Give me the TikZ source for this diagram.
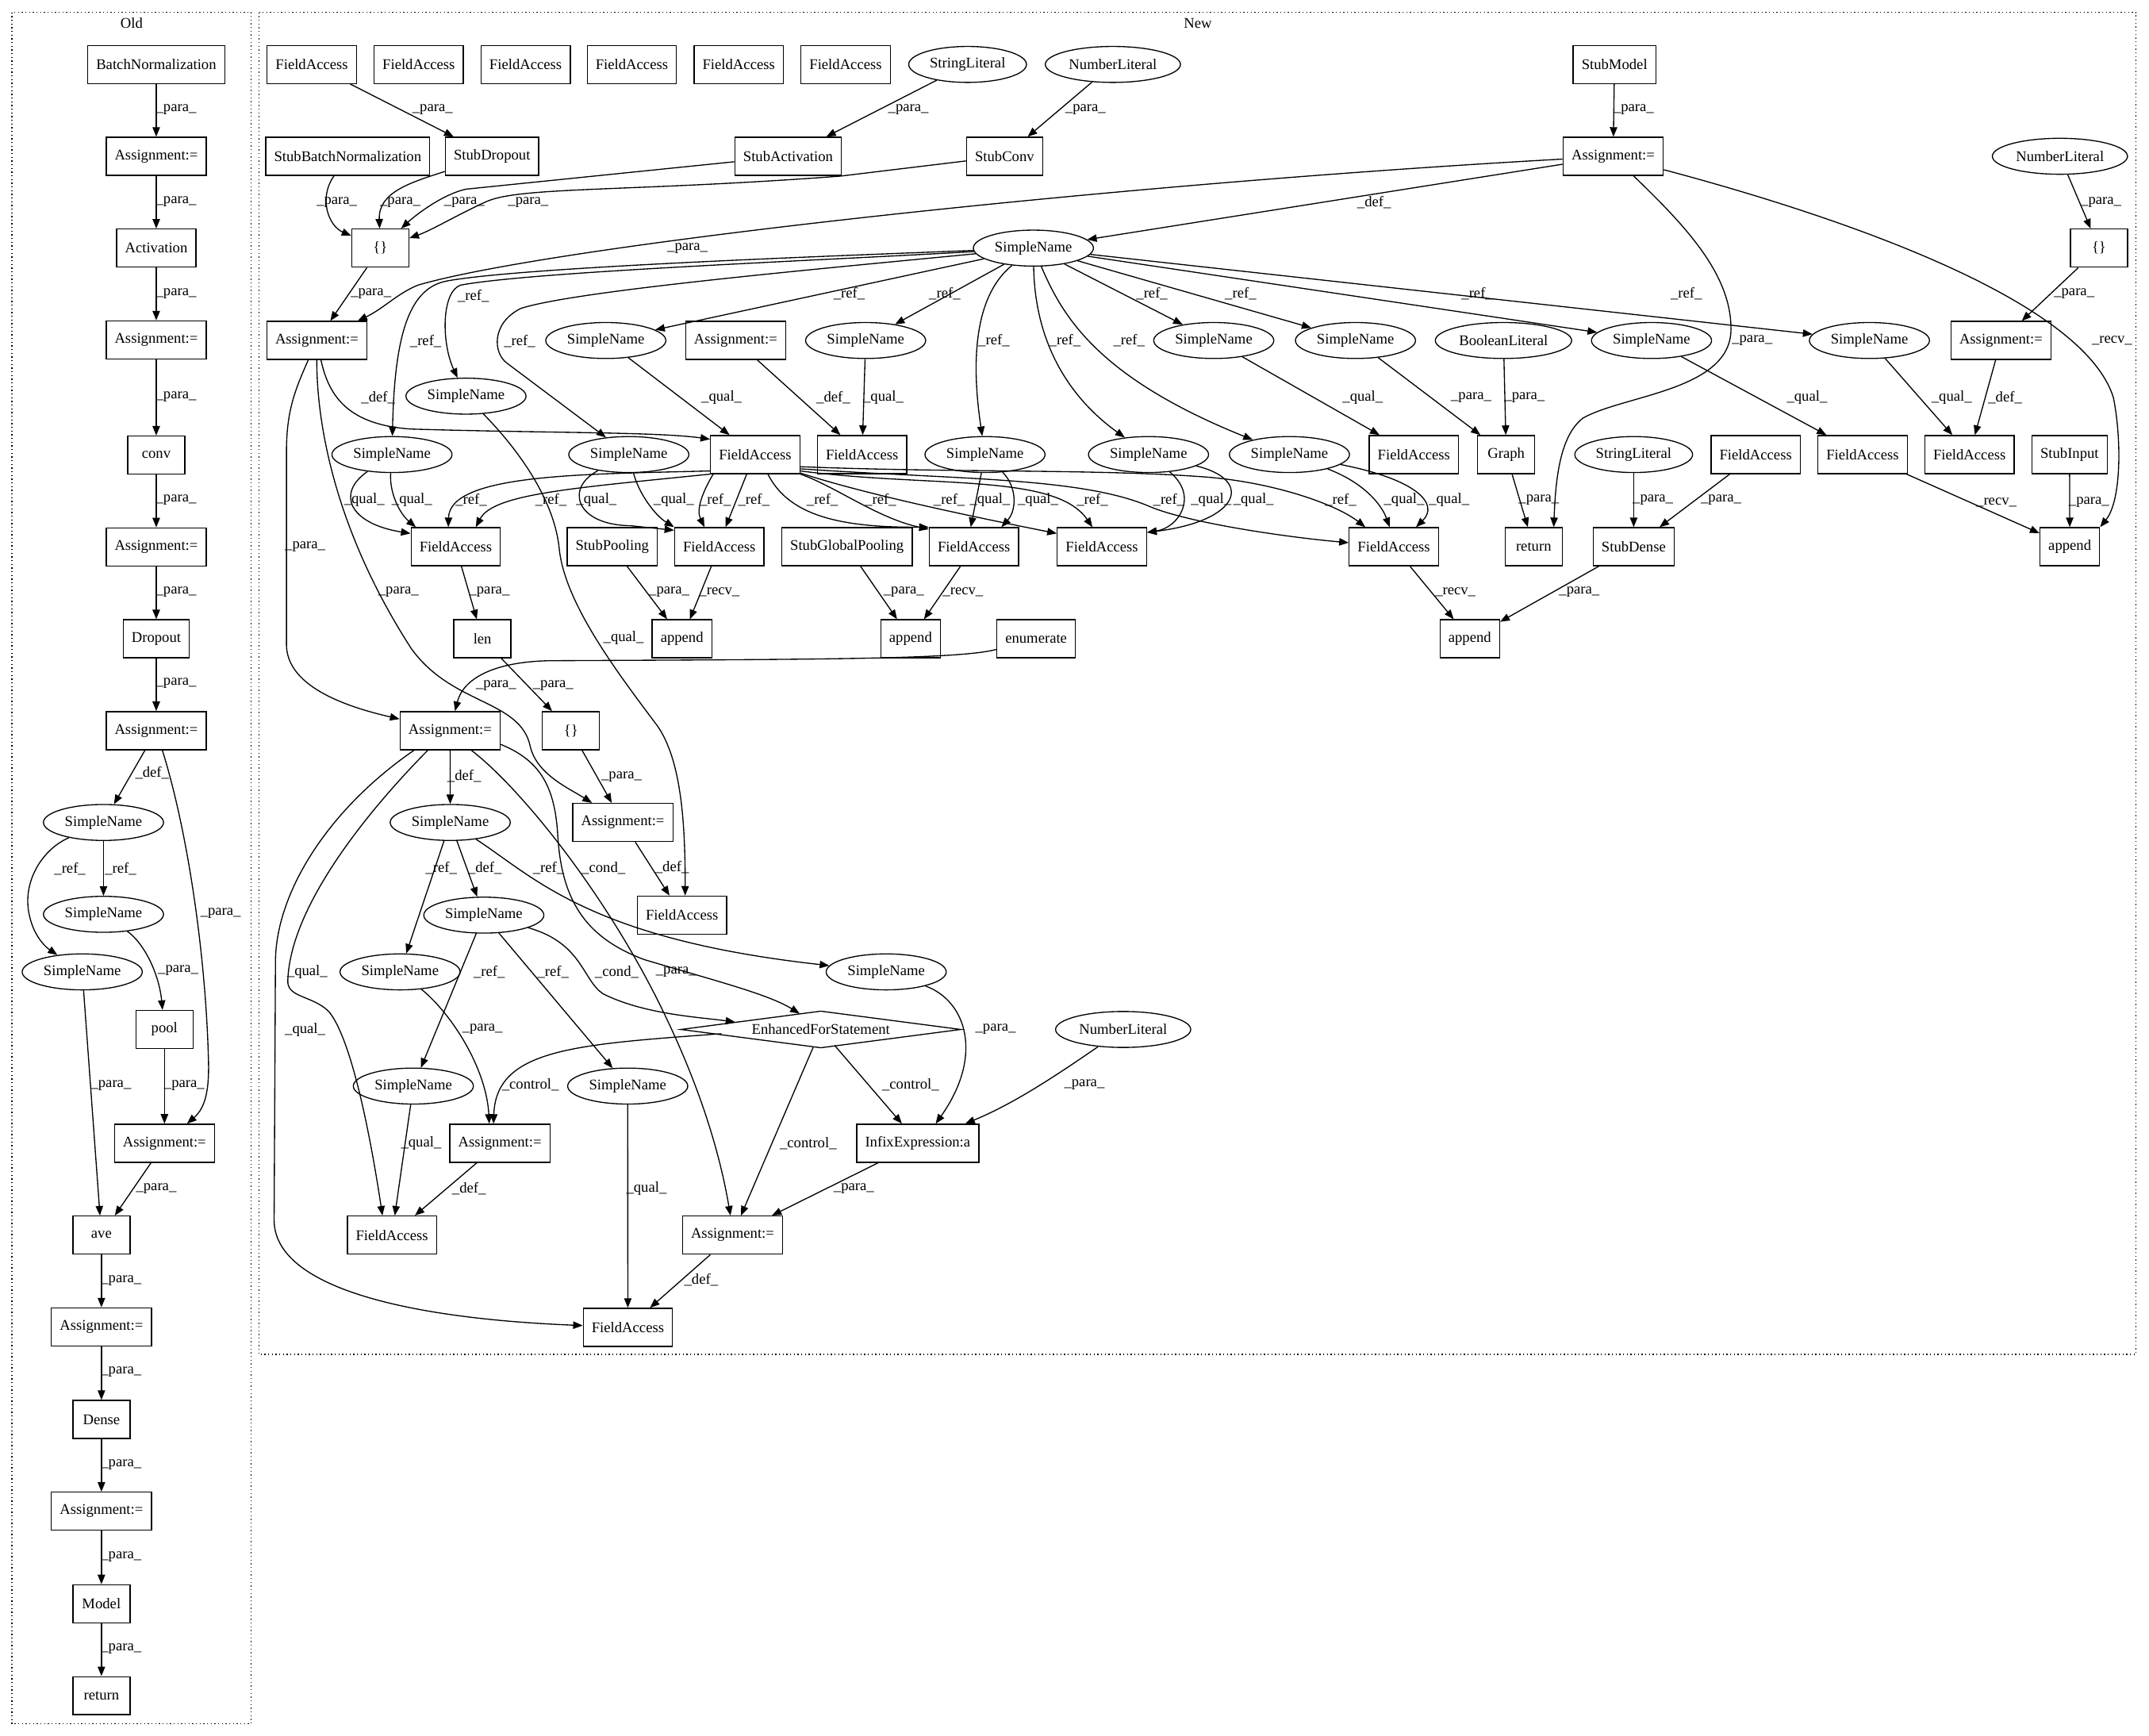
\documentclass[tikz,border=0pt]{standalone}
\usepackage{fontspec}
\setmainfont{Liberation Serif}
\usetikzlibrary{arrows.meta,shapes.geometric}
\tikzset{
 bx/.style={draw, rectangle, minimum height=36pt, minimum width=54pt, inner xsep=8pt, inner ysep=0pt, line width=1pt},
 elp/.style={draw, ellipse, minimum height=34pt, inner xsep=3.6pt, inner ysep=0pt, line width=1pt},
 dmd/.style={draw, diamond, aspect=7, minimum width=265pt, minimum height=35pt, inner sep=0pt, line width=1pt},
 edg/.style={draw, line width=1pt, -{Triangle[length=9pt,width=7pt]}},
 lbl/.style={inner sep=0pt},
 clu/.style={draw, line width=1pt, dash pattern=on 1pt off 2.5pt},
}
\begin{document}
\begin{tikzpicture}[x=1.296pt,y=-1.296pt,font=\fontsize{14}{16.8}\selectfont]
\useasboundingbox (0,0) rectangle (1568,1266);
% clusters
\draw[clu] (8.7,9) rectangle (183.3,1257.5);
\node[lbl] (oldlab) at (96,17) {Old};
\draw[clu] (189,9) rectangle (1558.5,988);
\node[lbl] (newlab) at (874,17) {New};

% ---------------- Old nodes
\node[bx] (obn) at (114,47) {BatchNormalization};
\node[bx] (oa1) at (114,114) {Assignment:=};
\node[bx] (oact) at (114,181) {Activation};
\node[bx] (oa2) at (114,248) {Assignment:=};
\node[bx] (oconv) at (114,332) {conv};
\node[bx] (oa3) at (114,399) {Assignment:=};
\node[bx] (odrop) at (114,466) {Dropout};
\node[bx] (oa4) at (114,533) {Assignment:=};
\node[elp] (os1) at (75.5,600) {SimpleName};
\node[elp] (os2) at (75.5,667) {SimpleName};
\node[elp] (os3) at (60,709) {SimpleName};
\node[bx] (opool) at (120,751) {pool};
\node[bx] (oa5) at (120,834) {Assignment:=};
\node[bx] (oave) at (74,901) {ave};
\node[bx] (oa6) at (74,968) {Assignment:=};
\node[bx] (odense) at (74,1035.5) {Dense};
\node[bx] (oa7) at (74,1102.5) {Assignment:=};
\node[bx] (omodel) at (74,1170) {Model};
\node[bx] (oret) at (74,1237) {return};

% ---------------- Old edges
\draw[edg] (obn) -- (oa1) node[lbl] at (128.5,80) {\_para\_};
\draw[edg] (oa1) -- (oact) node[lbl] at (128.5,147) {\_para\_};
\draw[edg] (oact) -- (oa2) node[lbl] at (128.5,214.4) {\_para\_};
\draw[edg] (oa2) -- (oconv) node[lbl] at (128.5,289.5) {\_para\_};
\draw[edg] (oconv) -- (oa3) node[lbl] at (128.5,364.6) {\_para\_};
\draw[edg] (oa3) -- (odrop) node[lbl] at (128.5,432) {\_para\_};
\draw[edg] (odrop) -- (oa4) node[lbl] at (128.5,498.6) {\_para\_};
\draw[edg] (oa4) -- (os1) node[lbl] at (111,564) {\_def\_};
\draw[edg] (oa4) .. controls (138,610) and (150,700) .. (152,770) .. controls (153,795) and (150,808) .. (oa5) node[lbl] at (161,666) {\_para\_};
\draw[edg] (os1) -- (os2) node[lbl] at (88,634) {\_ref\_};
\draw[edg] (os1) .. controls (30,620) and (15,645) .. (22,670) .. controls (25,682) and (32,690) .. (os3) node[lbl] at (51,634) {\_ref\_};
\draw[edg] (os2) .. controls (105,688) and (116,710) .. (opool) node[lbl] at (130,708) {\_para\_};
\draw[edg] (os3) -- (oave) node[lbl] at (81,792) {\_para\_};
\draw[edg] (opool) -- (oa5) node[lbl] at (134.5,792) {\_para\_};
\draw[edg] (oa5) -- (oave) node[lbl] at (114,867) {\_para\_};
\draw[edg] (oave) -- (oa6) node[lbl] at (88.4,934) {\_para\_};
\draw[edg] (oa6) -- (odense) node[lbl] at (88.4,1001) {\_para\_};
\draw[edg] (odense) -- (oa7) node[lbl] at (88.4,1068.6) {\_para\_};
\draw[edg] (oa7) -- (omodel) node[lbl] at (88.4,1135.7) {\_para\_};
\draw[edg] (omodel) -- (oret) node[lbl] at (88.4,1202.8) {\_para\_};

% ---------------- New nodes
\node[bx] (fa1) at (227.5,47) {FieldAccess};
\node[bx] (fa2) at (305.5,47) {FieldAccess};
\node[bx] (fa3) at (383.5,47) {FieldAccess};
\node[bx] (fa4) at (461,47) {FieldAccess};
\node[bx] (fa5) at (539,47) {FieldAccess};
\node[bx] (fa6) at (617,47) {FieldAccess};
\node[elp] (strl1) at (706,47) {StringLiteral};
\node[elp] (numl1) at (812,47) {NumberLiteral};
\node[bx] (stubmodel) at (1178,47) {StubModel};

\node[bx] (stubbn) at (253.7,114) {StubBatchNormalization};
\node[bx] (stubdrop) at (359,114) {StubDropout};
\node[bx] (stubact) at (575,114) {StubActivation};
\node[bx] (stubconv) at (733,114) {StubConv};
\node[bx] (nam) at (1177,114) {Assignment:=};
\node[elp] (numl2) at (1503,114) {NumberLiteral};

\node[bx] (br1) at (277.5,181) {\{\}};
\node[elp] (sn0) at (754,181) {SimpleName};
\node[bx] (br2) at (1531.5,181) {\{\}};

\node[bx] (na1) at (231.2,248.4) {Assignment:=};
\node[elp] (snA) at (442,248.4) {SimpleName};
\node[bx] (na2) at (536.8,248.4) {Assignment:=};
\node[elp] (snB) at (631.6,248.4) {SimpleName};
\node[elp] (snC) at (885.6,248.4) {SimpleName};
\node[elp] (snD) at (989,248.4) {SimpleName};
\node[elp] (booll) at (1097,248.4) {BooleanLiteral};
\node[elp] (snE) at (1205,248.4) {SimpleName};
\node[elp] (snF) at (1364,248.4) {SimpleName};
\node[bx] (na3) at (1460,248.4) {Assignment:=};

\node[elp] (snG) at (340,289) {SimpleName};

\node[elp] (snH) at (286,331.6) {SimpleName};
\node[elp] (snI) at (458.8,331.6) {SimpleName};
\node[bx] (fa0) at (551,331.6) {FieldAccess};
\node[bx] (faB) at (629,331.6) {FieldAccess};
\node[elp] (snJ) at (718.7,331.6) {SimpleName};
\node[elp] (snK) at (838,331.6) {SimpleName};
\node[elp] (snL) at (940.8,331.6) {SimpleName};
\node[bx] (faC) at (1031.6,331.6) {FieldAccess};
\node[bx] (graph) at (1099,331.6) {Graph};
\node[elp] (strl2) at (1192,331.6) {StringLiteral};
\node[bx] (faD) at (1281,331.6) {FieldAccess};
\node[bx] (faE) at (1359,331.6) {FieldAccess};
\node[bx] (faF) at (1437,331.6) {FieldAccess};
\node[bx] (stubinput) at (1510,331.6) {StubInput};

\node[bx] (faG) at (332.5,398.8) {FieldAccess};
\node[bx] (stubpool) at (446.7,398.8) {StubPooling};
\node[bx] (faH) at (524.8,398.8) {FieldAccess};
\node[bx] (stubgp) at (618,398.8) {StubGlobalPooling};
\node[bx] (faI) at (710.6,398.8) {FieldAccess};
\node[bx] (faJ) at (804,398.8) {FieldAccess};
\node[bx] (faK) at (1017,398.8) {FieldAccess};
\node[bx] (nret) at (1119,398.8) {return};
\node[bx] (stubdense) at (1192,398.8) {StubDense};
\node[bx] (ap4) at (1510.2,398.8) {append};

\node[bx] (len) at (352,466) {len};
\node[bx] (ap1) at (497.6,466) {append};
\node[bx] (ap2) at (664.4,466) {append};
\node[bx] (enum) at (756,466) {enumerate};
\node[bx] (ap3) at (1072.4,466) {append};

\node[bx] (na4) at (328.4,533) {Assignment:=};
\node[bx] (br3) at (416.6,533) {\{\}};
\node[elp] (sn1) at (328.5,600) {SimpleName};
\node[bx] (na5) at (454.4,600) {Assignment:=};
\node[elp] (sn2) at (353,667.6) {SimpleName};
\node[bx] (faL) at (497.6,667.6) {FieldAccess};
\node[elp] (sn3) at (291.9,709) {SimpleName};
\node[elp] (sn4) at (646.6,709) {SimpleName};
\node[dmd] (efs) at (598.9,751) {EnhancedForStatement};
\node[elp] (numl3) at (819.5,751) {NumberLiteral};
\node[elp] (sn5) at (301.6,792.3) {SimpleName};
\node[elp] (sn6) at (458,792.3) {SimpleName};
\node[bx] (na6) at (364.7,834) {Assignment:=};
\node[bx] (infix) at (669.6,834) {InfixExpression:a};
\node[bx] (faM) at (286,901) {FieldAccess};
\node[bx] (na7) at (534.5,901) {Assignment:=};
\node[bx] (faN) at (458.1,968.3) {FieldAccess};

% ---------------- New edges: top
\draw[edg] (fa1) -- (stubdrop) node[lbl] at (315.6,80) {\_para\_};
\draw[edg] (strl1) -- (stubact) node[lbl] at (662.8,80) {\_para\_};
\draw[edg] (numl1) -- (stubconv) node[lbl] at (792,80) {\_para\_};
\draw[edg] (stubbn) .. controls (232,145) and (240,165) .. (br1) node[lbl] at (245.8,147.6) {\_para\_};
\draw[edg] (stubdrop) .. controls (300,133) and (276,140) .. (br1) node[lbl] at (292,147.6) {\_para\_};
\draw[edg] (stubact) -- (340,138) .. controls (322,142) and (302,158) .. (br1) node[lbl] at (338.8,147.6) {\_para\_};
\draw[edg] (stubconv) -- (613,128.5) .. controls (460,140) and (380,136) .. (355,147) .. controls (335,156) and (315,168) .. (br1) node[lbl] at (385.4,147.6) {\_para\_};
\draw[edg] (br1) -- (na1) node[lbl] at (270.7,214) {\_para\_};
\draw[edg] (stubmodel) -- (nam) node[lbl] at (1192,80) {\_para\_};
\draw[edg] (nam) .. controls (800,135) and (400,180) .. (305,208) .. controls (290,214) and (280,225) .. (na1) node[lbl] at (501.6,181) {\_para\_};
\draw[edg] (nam) -- (sn0) node[lbl] at (1002.6,147.6) {\_def\_};
\draw[edg] (nam) .. controls (1230,165) and (1263,200) .. (1263,240) .. controls (1263,285) and (1185,288) .. (1155,305) .. controls (1138,318) and (1135,350) .. ([xshift=19pt]nret.north) node[lbl] at (1278.4,248.3) {\_para\_};
\draw[edg] (nam) .. controls (1350,160) and (1520,220) .. (1542,290) .. controls (1548,320) and (1548,365) .. (ap4.north east) node[lbl] at (1541,248.3) {\_recv\_};
\draw[edg] (numl2) -- (br2) node[lbl] at (1533,147.6) {\_para\_};
\draw[edg] (br2) -- (na3) node[lbl] at (1513.4,214) {\_para\_};
\draw[edg] (na3) -- (faF) node[lbl] at (1463,290) {\_def\_};
\draw[edg] (snF) -- (faF) node[lbl] at (1424,290) {\_qual\_};
\draw[edg] (snE) -- (faE) node[lbl] at (1318.5,290) {\_qual\_};
\draw[edg] (snD) -- (graph) node[lbl] at (1073.4,290) {\_para\_};
\draw[edg] (booll) -- (graph) node[lbl] at (1112.4,290) {\_para\_};
\draw[edg] (snC) -- (faC) node[lbl] at (994.3,290) {\_qual\_};
\draw[edg] (graph) -- (nret) node[lbl] at (1122.8,364.6) {\_para\_};
\draw[edg] (strl2) -- (stubdense) node[lbl] at (1206,364.6) {\_para\_};
\draw[edg] (faD) -- (stubdense) node[lbl] at (1255.7,364.6) {\_para\_};
\draw[edg] (faE) -- (ap4) node[lbl] at (1456.6,366.6) {\_recv\_};
\draw[edg] (stubinput) -- (ap4) node[lbl] at (1524.2,366.6) {\_para\_};
\draw[edg] (faK) -- (ap3) node[lbl] at (1061.9,432) {\_recv\_};
\draw[edg] (stubdense) -- (ap3) node[lbl] at (1152.3,432) {\_para\_};
\draw[edg] (faI) -- (ap2) node[lbl] at (702.6,432) {\_recv\_};
\draw[edg] (stubgp) -- (ap2) node[lbl] at (659.4,432) {\_para\_};
\draw[edg] (stubpool) -- (ap1) node[lbl] at (488.3,432) {\_para\_};
\draw[edg] (faH) -- (ap1) node[lbl] at (524.9,432) {\_recv\_};
\draw[edg] (faG) -- (len) node[lbl] at (357.1,432) {\_para\_};
\draw[edg] (len) -- (br3) node[lbl] at (403.6,500) {\_para\_};
\draw[edg] (br3) -- (na5) node[lbl] at (453.5,566.8) {\_para\_};
\draw[edg] (enum) .. controls (700,481) and (600,481) .. (400,482) .. controls (360,483) and (338,495) .. (na4) node[lbl] at (362,500) {\_para\_};

% na1 edges
\draw[edg] (na1) .. controls (215,285) and (209,300) .. (209,330) -- (209,470) .. controls (209,500) and (250,515) .. (na4) node[lbl] at (222.6,399) {\_para\_};
\draw[edg] (na1) .. controls (231,300) and (240,380) .. (300,473) .. controls (330,515) and (380,510) .. (387,545) .. controls (392,565) and (415,575) .. (na5) node[lbl] at (290.7,432) {\_para\_};
\draw[edg] (na1) .. controls (240,290) and (255,310) .. (300,313) .. controls (400,316) and (480,315) .. ([yshift=-4pt]fa0.north west) node[lbl] at (275.9,290.3) {\_def\_};
\draw[edg] (na2) -- (faB) node[lbl] at (608,290) {\_def\_};
\draw[edg] (snB) -- (faB) node[lbl] at (644.5,290) {\_qual\_};
\draw[edg] (snA) -- (fa0) node[lbl] at (526.5,290) {\_qual\_};

% sn0 refs
\draw[edg] (sn0) .. controls (600,187) and (380,195) .. (326,205) .. controls (300,210) and (288,240) .. (snH) node[lbl] at (310.6,248.8) {\_ref\_};
\draw[edg] (sn0) .. controls (600,190) and (390,198) .. (336,208) .. controls (322,213) and (322,250) .. (snG) node[lbl] at (345.4,216) {\_ref\_};
\draw[edg] (sn0) .. controls (600,196) and (420,212) .. (380,225) .. controls (358,236) and (360,258) .. (370,265) -- (snI) node[lbl] at (379.1,248.8) {\_ref\_};
\draw[edg] (sn0) -- (snA) node[lbl] at (619.6,214) {\_ref\_};
\draw[edg] (sn0) -- (snB) node[lbl] at (689.3,214) {\_ref\_};
\draw[edg] (sn0) .. controls (712,215) and (708,260) .. (snJ) node[lbl] at (725.2,248.3) {\_ref\_};
\draw[edg] (sn0) .. controls (755,250) and (780,290) .. (snK) node[lbl] at (777,248.3) {\_ref\_};
\draw[edg] (sn0) .. controls (775,230) and (800,275) .. (snL) node[lbl] at (823.8,248.3) {\_ref\_};
\draw[edg] (sn0) -- (snC) node[lbl] at (840.5,214) {\_ref\_};
\draw[edg] (sn0) -- (snD) node[lbl] at (905.2,214) {\_ref\_};
\draw[edg] (sn0) -- (snE) node[lbl] at (1077.8,214) {\_ref\_};
\draw[edg] (sn0) -- (snF) node[lbl] at (1230.4,214) {\_ref\_};

% hub refs
\draw[edg] ([yshift=3pt]fa0.south west) .. controls (430,346) and (328,345) .. ([xshift=-7pt]faG.north) node[lbl] at (343.8,364.8) {\_ref\_};
\draw[edg] (fa0.south west) .. controls (420,356) and (360,360) .. ([xshift=19pt]faG.north) node[lbl] at (402,364.8) {\_ref\_};
\draw[edg] ([xshift=3pt]fa0.south west) .. controls (512,360) and (508,372) .. ([xshift=-14pt]faH.north) node[lbl] at (521.9,364.7) {\_ref\_};
\draw[edg] ([xshift=-8pt]fa0.south) -- ([xshift=6pt]faH.north) node[lbl] at (550,364.7) {\_ref\_};
\draw[edg] ([xshift=12pt]fa0.south) .. controls (575,375) and (610,385) .. (faI.north west) node[lbl] at (600,364.7) {\_ref\_};
\draw[edg] (fa0.south east) .. controls (610,355) and (640,378) .. ([yshift=-2pt]faI.north west) node[lbl] at (642.5,364.7) {\_ref\_};
\draw[edg] ([yshift=1pt]fa0.south east) .. controls (630,360) and (700,375) .. ([yshift=-6pt]faJ.north west) node[lbl] at (692.6,364.7) {\_ref\_};
\draw[edg] ([yshift=3pt]fa0.south east) .. controls (680,356) and (770,345) .. ([xshift=-9pt]faJ.north) node[lbl] at (797,364.7) {\_ref\_};
\draw[edg] ([yshift=5pt]fa0.south east) .. controls (700,350) and (790,348) .. (840,370) .. controls (870,382) and (940,392) .. (faK) node[lbl] at (852.8,364.7) {\_ref\_};
\draw[edg] ([yshift=7pt]fa0.south east) .. controls (700,345) and (800,342) .. (880,348) .. controls (930,352) and (975,368) .. ([xshift=-27pt]faK.north) node[lbl] at (978.2,364.7) {\_ref\_};

% qual edges
\draw[edg] (snH) .. controls (245,360) and (255,382) .. ([yshift=-6pt]faG.north west) node[lbl] at (265.8,364.8) {\_qual\_};
\draw[edg] (snH) .. controls (284,360) and (292,375) .. ([xshift=5pt]faG.north west) node[lbl] at (300.6,364.8) {\_qual\_};
\draw[edg] (snI) .. controls (412,356) and (420,383) .. (460,383.5) -- ([yshift=-3pt]faH.north west) node[lbl] at (435.2,364.8) {\_qual\_};
\draw[edg] (snI) .. controls (466,360) and (478,376) .. (faH.north west) node[lbl] at (491.6,364.8) {\_qual\_};
\draw[edg] (snJ) -- ([xshift=-3pt]faI.north) node[lbl] at (722.3,364.6) {\_qual\_};
\draw[edg] (snJ) .. controls (742,355) and (742,372) .. ([xshift=26pt]faI.north) node[lbl] at (757.4,364.6) {\_qual\_};
\draw[edg] (snK) .. controls (875,362) and (860,385) .. ([yshift=-5pt]faJ.north east) node[lbl] at (883.7,364.7) {\_qual\_};
\draw[edg] (snK) .. controls (915,350) and (905,380) .. ([yshift=-5pt]faJ.north east) node[lbl] at (914.6,364.7) {\_qual\_};
\draw[edg] (snL) .. controls (995,352) and (1008,368) .. ([xshift=-4pt]faK.north) node[lbl] at (1024.5,364.7) {\_qual\_};
\draw[edg] (snL) .. controls (1035,350) and (1050,368) .. ([xshift=21pt]faK.north) node[lbl] at (1057.3,364.7) {\_qual\_};
\draw[edg] (snG) .. controls (385,335) and (405,370) .. (408,400) .. controls (412,440) and (450,490) .. (480,530) .. controls (497,555) and (500,600) .. ([xshift=3pt]faL.north) node[lbl] at (455,465.6) {\_qual\_};
\draw[edg] (na5) -- (faL) node[lbl] at (490.3,632.8) {\_def\_};

% bottom
\draw[edg] (na4) -- (sn1) node[lbl] at (338.7,566) {\_def\_};
\draw[edg] ([xshift=-34pt]na4.south) .. controls (240,590) and (202,650) .. (201,700) -- (200,890) .. controls (200,940) and (300,962) .. (faN) node[lbl] at (222.6,751.5) {\_qual\_};
\draw[edg] ([xshift=-21pt]na4.south) .. controls (270,590) and (212,660) .. (210,715) .. controls (209,728) and (228,726) .. (240,738) .. controls (258,760) and (272,840) .. ([xshift=-9pt]faM.north) node[lbl] at (224.2,709) {\_qual\_};
\draw[edg] ([xshift=20pt]na4.south) .. controls (380,575) and (440,650) .. (480,730) .. controls (510,790) and (525,840) .. ([xshift=-2pt]na7.north) node[lbl] at (493.3,709) {\_para\_};
\draw[edg] ([yshift=-13pt]na4.east) .. controls (395,555) and (405,575) .. (407,610) .. controls (410,660) and (430,685) .. (470,700) .. controls (520,715) and (560,725) .. ([xshift=-20pt,yshift=-3pt]efs.north) node[lbl] at (440.3,633.3) {\_cond\_};
\draw[edg] (sn1) -- (sn3) node[lbl] at (322,633.3) {\_ref\_};
\draw[edg] (sn1) -- (sn2) node[lbl] at (353.8,633.3) {\_def\_};
\draw[edg] (sn1) .. controls (390,640) and (430,685) .. (sn4) node[lbl] at (400.3,633.3) {\_ref\_};
\draw[edg] (sn2) -- (sn5) node[lbl] at (357,709) {\_ref\_};
\draw[edg] (sn2) -- (sn6) node[lbl] at (403.6,709) {\_ref\_};
\draw[edg] (sn2) .. controls (425,688) and (425,715) .. (440,725) .. controls (470,740) and (510,742) .. ([xshift=-81pt,yshift=7pt]efs.center) node[lbl] at (450,709) {\_cond\_};
\draw[edg] (sn3) .. controls (330,740) and (355,780) .. ([xshift=-10pt]na6.north) node[lbl] at (352,751) {\_para\_};
\draw[edg] (sn5) -- (faM) node[lbl] at (307.3,834) {\_qual\_};
\draw[edg] (na6) -- (faM) node[lbl] at (342.2,867) {\_def\_};
\draw[edg] (sn6) -- (faN) node[lbl] at (471.7,867) {\_qual\_};
\draw[edg] (na7) -- (faN) node[lbl] at (511.6,933.5) {\_def\_};
\draw[edg] (infix) -- (na7) node[lbl] at (623,867) {\_para\_};
\draw[edg] (sn4) .. controls (705,730) and (718,770) .. ([xshift=17pt]infix.north) node[lbl] at (726.4,751) {\_para\_};
\draw[edg] (numl3) .. controls (770,785) and (740,805) .. ([xshift=45pt]infix.north) node[lbl] at (791.2,791.4) {\_para\_};
\draw[edg] ([xshift=-94pt,yshift=-4pt]efs.center) .. controls (420,762) and (362,765) .. ([xshift=-6pt]na6.north) node[lbl] at (387,791.4) {\_control\_};
\draw[edg] (efs) -- (na7) node[lbl] at (589.7,834) {\_control\_};
\draw[edg] ([xshift=13pt,yshift=-15pt]efs.center) -- ([xshift=-15pt]infix.north) node[lbl] at (664.4,791.4) {\_control\_};
\end{tikzpicture}
\end{document}
